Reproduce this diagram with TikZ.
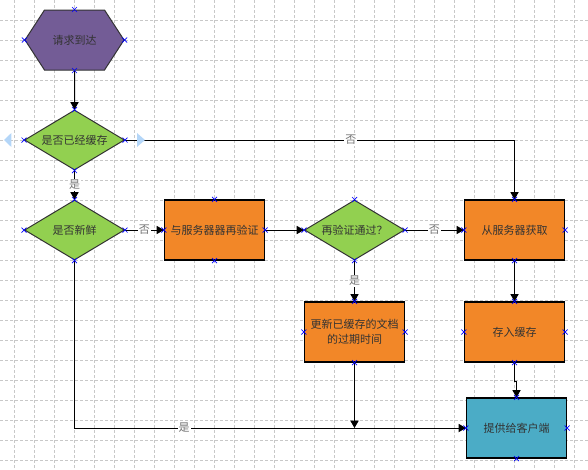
\documentclass[tikz,border=0pt]{standalone}
\usepackage{fontspec}
\newfontfamily\cjk{Noto Sans CJK SC}
\usepackage{tikz}
\usetikzlibrary{arrows,positioning,calc,shapes.geometric,shapes.symbols}
\definecolor{hexpurple}{RGB}{115,92,150}
\definecolor{decgreen}{RGB}{146,208,80}
\definecolor{procorange}{RGB}{242,135,40}
\definecolor{endblue}{RGB}{75,172,198}
\definecolor{gridgray}{RGB}{200,200,200}
\definecolor{autoblue}{RGB}{180,214,248}

\begin{document}
\begin{tikzpicture}[x=1pt,y=-1pt,->,>=triangle 60,line width=1pt,
                    font=\cjk\fontsize{11}{15}\selectfont]
  \tikzstyle{every node}=[text=black!80]
  \tikzstyle{start}=[signal,signal to=west and east,signal pointer angle=114,
                     draw=black!80,fill=hexpurple,minimum width=99pt,minimum height=60pt,inner sep=0pt]
  \tikzstyle{decision}=[diamond,aspect=1.67,draw=black!80,fill=decgreen,
                        minimum width=100pt,minimum height=60pt,inner sep=0pt]
  \tikzstyle{process}=[rectangle,draw=black,line width=1.2pt,fill=procorange,
                       minimum width=100pt,minimum height=60pt,inner sep=0pt,align=center]
  \tikzstyle{lbl}=[fill=white,text=black!55,inner sep=1pt]
  \tikzstyle{gridline}=[-,draw=gridgray,line width=0.9pt,dash pattern=on 3pt off 2pt]
  \tikzstyle{cp}=[-,draw=blue,line width=0.7pt]

  \useasboundingbox (0,0) rectangle (588,469);

  % background grid
  \foreach \x in {0,...,28} \draw[gridline] (14.7+20*\x,0) -- (14.7+20*\x,469);
  \foreach \y in {1,...,23} \draw[gridline] (0,20*\y) -- (588,20*\y);

  \node[start] (arrive) at (74.5,40)                              {请求到达};
  \node[decision] (cached)  [below of=arrive,node distance=100pt] {是否已经缓存};
  \node[decision] (fresh)   [below of=cached,node distance=90pt]  {是否新鲜};
  \node[process] (reval)    [right of=fresh,node distance=140pt]  {与服务器器再验证};
  \node[decision] (check)   [right of=reval,node distance=140pt]  {再验证通过？};
  \node[process] (fetch)    [right of=check,node distance=160pt]  {从服务器获取};
  \node[process] (update)   [below of=check,node distance=102pt]  {更新已缓存的文档\\的过期时间};
  \node[process] (store)    [below of=fetch,node distance=102pt]  {存入缓存};
  \node[process,fill=endblue] (deliver) [below of=store,node distance=96pt,xshift=2pt] {提供给客户端};

  \path (arrive) edge                     (cached)
        (cached) edge node[lbl] {是}     (fresh)
        (fresh)  edge node[lbl] {否}     (reval)
        (reval)  edge                     (check)
        (check)  edge node[lbl] {否}     (fetch)
        (check)  edge node[lbl] {是}     (update)
        (fetch)  edge                     (store);

  \draw (cached) -| node[lbl,pos=0.29] {否} (fetch);
  \draw (fresh) |- node[lbl,pos=0.64] {是} (deliver);
  \coordinate (meet) at (update |- deliver);
  \draw (update) -- (meet);
  \draw (store.south) -- ++(0,19) -| (deliver.north);

  % auto-connect arrows beside the first decision
  \fill[-,autoblue] ($(cached.west)+(-12.7,-7)$) -- ($(cached.west)+(-20,0)$) -- ($(cached.west)+(-12.7,7)$) -- cycle;
  \fill[-,autoblue] ($(cached.east)+(12,-7)$) -- ($(cached.east)+(20,0)$) -- ($(cached.east)+(12,7)$) -- cycle;

  % connection points
  \foreach \n in {arrive,cached,fresh,reval,check,fetch,update,store,deliver}
    \foreach \a in {north,south,east,west}
      \draw[cp] (\n.\a) +(-2.5,-2.5) -- +(2.5,2.5) +(-2.5,2.5) -- +(2.5,-2.5);

\end{tikzpicture}
\end{document}
